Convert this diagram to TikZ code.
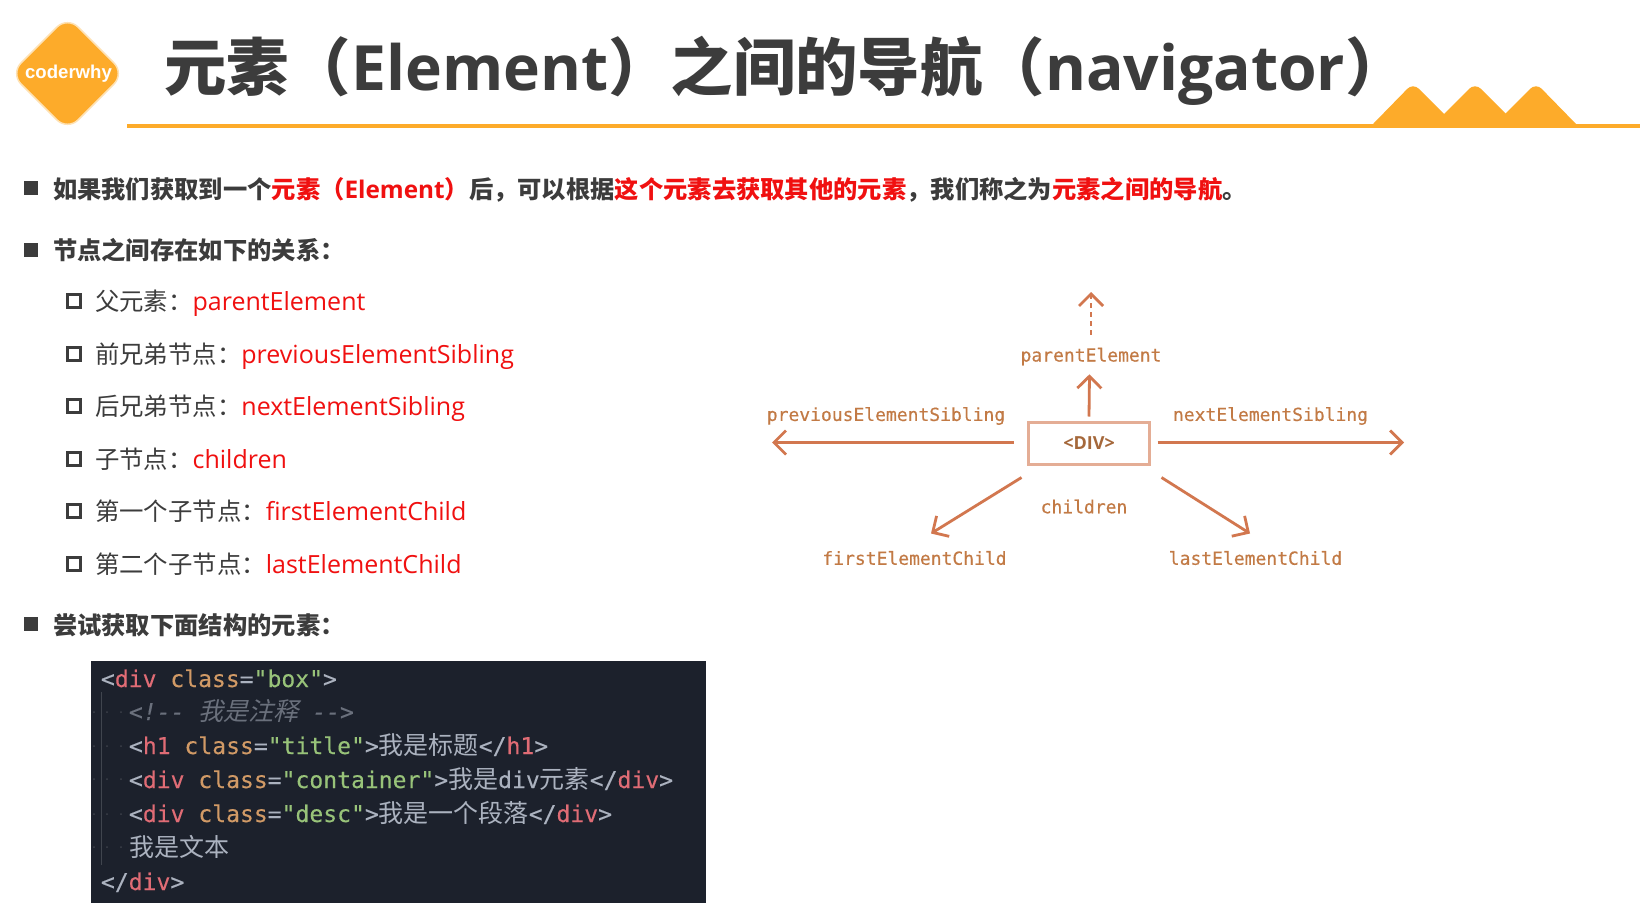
\documentclass[tikz,border=0pt]{standalone}
\usepackage{fontspec}
\setmainfont{Open Sans}
\newfontfamily\cjk{Noto Sans CJK SC}
\newfontfamily\cjkit[FakeSlant=0.25]{Noto Sans CJK SC}
\newfontfamily\monof[FakeBold=0.25]{DejaVu Sans Mono}
\newfontfamily\labelf[FakeBold=0.35]{DejaVu Sans Mono}
\newfontfamily\logof{Liberation Sans}
\usetikzlibrary{arrows.meta}
\definecolor{brand}{HTML}{FDAB2A}
\definecolor{ink}{HTML}{3C3C3C}
\definecolor{hot}{HTML}{F01010}
\definecolor{rust}{HTML}{D2774F}
\definecolor{rusttext}{HTML}{C27A45}
\definecolor{codebg}{HTML}{1C212C}
\definecolor{cplain}{HTML}{ABB2BF}
\definecolor{ctag}{HTML}{E06C75}
\definecolor{cattr}{HTML}{D19A66}
\definecolor{cstr}{HTML}{98C379}
\definecolor{ccom}{HTML}{6A707C}
\newcommand{\zh}[1]{{\cjk #1}}
\newcommand{\red}[1]{\textcolor{hot}{#1}}
\newcommand{\rl}[1]{\textcolor{hot}{\fontsize{25}{30}\selectfont #1}}
\newcommand{\ctg}[1]{\textcolor{ctag}{#1}}
\newcommand{\cat}[1]{\textcolor{cattr}{#1}}
\newcommand{\cst}[1]{\textcolor{cstr}{#1}}
\newcommand{\czh}[1]{{\fontsize{25}{30}\selectfont\cjk #1}}
\tikzset{
  txt/.style={anchor=base west,inner sep=0pt,outer sep=0pt},
  headtxt/.style={txt,text=ink,font=\fontsize{24.3}{30}\selectfont\bfseries},
  subtxt/.style={txt,text=ink,font=\fontsize{24.4}{30}\selectfont},
  solidbul/.style={fill=ink,minimum size=14pt,inner sep=0pt,outer sep=0pt},
  hollowbul/.style={draw=ink,line width=3pt,minimum size=13pt,inner sep=0pt,outer sep=0pt},
  codetxt/.style={txt,text=cplain,font=\fontsize{23.05}{28}\monof},
  dlabel/.style={inner sep=0pt,outer sep=0pt,text=rusttext,font=\fontsize{18}{22}\labelf},
  darrow/.style={draw=rust,line width=2.8pt,-{Straight Barb[length=12pt,width=24pt,line width=2.8pt]}},
  guide/.style={draw=white!16!codebg,line width=1pt}
}
\begin{document}
\begin{tikzpicture}[x=1pt,y=-1pt]
\path[fill=white,use as bounding box] (0,0) rectangle (1640,916);
% header
\fill[brand] (127,124) rectangle (1640,128);
\fill[brand] (1373,124) [rounded corners=8pt] -- (1413,83) [sharp corners] -- (1454,124) -- cycle;
\fill[brand] (1434,124) [rounded corners=8pt] -- (1475,83) [sharp corners] -- (1516,124) -- cycle;
\fill[brand] (1495,124) [rounded corners=8pt] -- (1536,83) [sharp corners] -- (1576,124) -- cycle;
\draw[brand!35!white,fill=brand,line width=1.5pt,rounded corners=15pt] (67.5,16.5) -- (124.5,73.5) -- (67.5,130.5) -- (10.5,73.5) -- cycle;
\node[inner sep=0pt,text=white,font=\fontsize{18.6}{22}\logof\bfseries] (logo) at (68.5,74) {coderwhy};
\node[txt,text=ink,font=\fontsize{62.4}{70}\selectfont\bfseries] (title) at (164,90) {\zh{元素（}Element\zh{）之间的导航（}navigator\zh{）}};
% bullets
\node[solidbul] (b1) at (31,188) {};
\node[headtxt] (t1) at (53,198) {\zh{如果我们获取到一个}\red{\zh{元素（}Element\zh{）}}\zh{后，可以根据}\red{\zh{这个元素去获取其他的元素}}\zh{，我们称之为}\red{\zh{元素之间的导航}}\zh{。}};
\node[solidbul] (b2) at (31,250) {};
\node[headtxt] (t2) at (53,259) {\zh{节点之间存在如下的关系：}};
\node[hollowbul] (s1) at (74,301) {};
\node[subtxt] (u1) at (95,310) {\zh{父元素：}\rl{parentElement}};
\node[hollowbul] (s2) at (74,354) {};
\node[subtxt] (u2) at (95,363) {\zh{前兄弟节点：}\rl{previousElementSibling}};
\node[hollowbul] (s3) at (74,406) {};
\node[subtxt] (u3) at (95,415) {\zh{后兄弟节点：}\rl{nextElementSibling}};
\node[hollowbul] (s4) at (74,459) {};
\node[subtxt] (u4) at (95,468) {\zh{子节点：}\rl{children}};
\node[hollowbul] (s5) at (74,511) {};
\node[subtxt] (u5) at (95,520) {\zh{第一个子节点：}\rl{firstElementChild}};
\node[hollowbul] (s6) at (74,564) {};
\node[subtxt] (u6) at (95,573) {\zh{第二个子节点：}\rl{lastElementChild}};
\node[solidbul] (b3) at (31,624) {};
\node[headtxt] (t3) at (53,634) {\zh{尝试获取下面结构的元素：}};
% code
\fill[codebg] (91,661) rectangle (706,903);
\draw[guide] (101,692) -- (101,865);
\foreach \ly in {712,746,779,814,847} \foreach \lx in {94,107,121} \fill[white!14!codebg] (\lx,\ly) circle (1);
\node[codetxt] (c1) at (101,687) {<\ctg{div} \cat{class}=\cst{"box"}>};
\node[codetxt,text=ccom] (c2) at (129,720) {\itshape <!-- {\fontsize{25}{30}\selectfont\cjkit 我是注释} -->};
\node[codetxt] (c3) at (129,754) {<\ctg{h1} \cat{class}=\cst{"title"}>\czh{我是标题}</\ctg{h1}>};
\node[codetxt] (c4) at (129,788) {<\ctg{div} \cat{class}=\cst{"container"}>\czh{我是}div\czh{元素}</\ctg{div}>};
\node[codetxt] (c5) at (129,822) {<\ctg{div} \cat{class}=\cst{"desc"}>\czh{我是一个段落}</\ctg{div}>};
\node[codetxt] (c6) at (129,856) {\czh{我是文本}};
\node[codetxt] (c7) at (101,890) {</\ctg{div}>};
% DOM diagram
\node[draw=rust!60!white,line width=2.6pt,minimum width=121pt,minimum height=42pt,inner sep=0pt,outer sep=0pt,text=rusttext!85!black,font=\fontsize{18}{20}\selectfont\bfseries] (div) at (1089,443.5) {\raisebox{-1pt}{<DIV>}};
\node[dlabel] (parent) at (1091,356.5) {parentElement};
\node[dlabel] (prev) at (886,416) {previousElementSibling};
\node[dlabel] (next) at (1270.5,416) {nextElementSibling};
\node[dlabel] (kids) at (1084,506.5) {children};
\node[dlabel] (first) at (914.5,558) {firstElementChild};
\node[dlabel] (last) at (1255.5,558) {lastElementChild};
\coordinate (upTop) at (1091,292);
\coordinate (prevEnd) at (772,442.5);
\coordinate (nextEnd) at (1404,442.5);
\coordinate (firstEnd) at (931,533.5);
\coordinate (lastEnd) at (1250,533.5);
\draw[darrow,dash pattern=on 5pt off 4pt] ([yshift=13pt]parent.north) -- (upTop);
\draw[darrow] ([shift={(0pt,6pt)}]div.north) -- ([shift={(-1.5pt,-9pt)}]parent.south);
\draw[darrow] ([xshift=-15pt,yshift=1pt]div.west) -- (prevEnd);
\draw[darrow] ([xshift=8pt,yshift=1pt]div.east) -- (nextEnd);
\draw[darrow] ([shift={(-7pt,-13pt)}]div.south west) -- (firstEnd);
\draw[darrow] ([shift={(12pt,-13pt)}]div.south east) -- (lastEnd);
\end{tikzpicture}
\end{document}
